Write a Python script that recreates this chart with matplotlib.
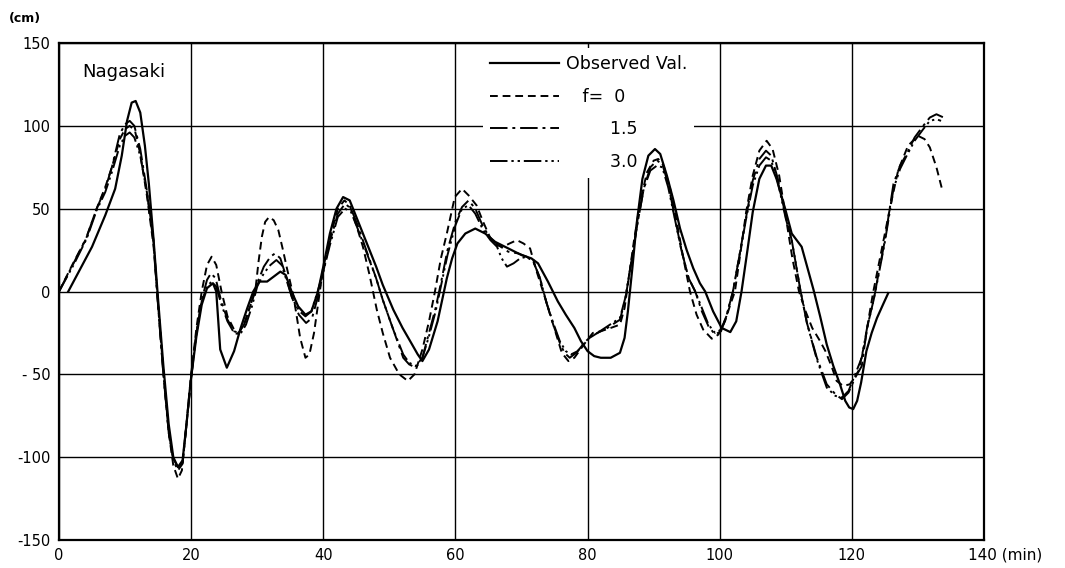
import matplotlib
matplotlib.use("Agg")
import matplotlib.pyplot as plt
import matplotlib.transforms as mtransforms

# --- values (time in min, height in cm) ---
obs_t = [1.4, 3, 5, 7, 8.5, 9.5, 10.3, 11.0, 11.6, 12.3, 13.0, 13.6, 14.3, 15.0, 15.8, 16.6,
         17.3, 18.0, 18.7, 19.3, 19.9, 20.8, 21.6, 22.4, 23.3, 23.8, 24.4, 25.4, 26.5, 27.5,
         28.5, 29.4, 30.3, 31.5, 32.5, 33.5, 34.3, 35.2, 36.2, 37.3, 38.2, 39.2, 40.0, 41.0,
         42.0, 43.0, 44.0, 45.0, 46.5, 48.0, 49.0, 50.6, 52.0, 53.3, 54.3, 55.0, 56.0, 57.3,
         58.0, 58.7, 59.5, 60.3, 61.5, 63.0, 64.5, 66.0, 68.0, 70.0, 71.5, 72.5, 74.0, 75.5,
         76.7, 78.0, 79.0, 80.0, 81.0, 82.0, 83.5, 84.9, 85.6, 86.1, 86.8, 87.4, 88.3, 89.2,
         90.2, 91.0, 92.0, 93.0, 94.0, 95.0, 96.0, 97.0, 97.8, 99.0, 100.3, 101.6, 102.5,
         103.3, 104.2, 105.0, 106.0, 107.0, 107.8, 108.6, 109.9, 110.9, 112.4, 113.3, 114.2,
         115.2, 116.2, 117.2, 118.2, 119.0, 119.6, 120.2, 120.8, 121.4, 122.2, 123.0, 123.8,
         124.7, 125.5]
obs_v = [0, 12, 27, 46, 62, 82, 103, 114, 115, 108, 88, 65, 32, -5, -45, -80,
         -100, -106, -102, -80, -55, -27, -8, 2, 5, 0, -35, -46, -36, -22,
         -10, 0, 6, 6, 9, 12, 10, 0, -9, -14, -12, 0, 15, 35,
         50, 57, 55, 45, 30, 15, 4, -11, -22, -31, -38, -42, -35, -18,
         -5, 8, 20, 29, 35, 38, 35, 30, 26, 22, 20, 17, 6, -6,
         -14, -22, -30, -36, -39, -40, -40, -37, -28, -12, 15, 40, 68, 82,
         86, 83, 70, 55, 38, 25, 14, 5, 0, -12, -22, -24.5, -18,
         0, 25, 48, 68, 76, 76, 68, 50, 35, 27, 14, 1,
         -15, -32, -45, -56, -66, -70, -71, -66, -55, -36, -25, -16,
         -8, -1]

f0_t = [0, 2, 4, 5.7, 7, 8, 9.2, 10.0, 10.7, 11.5, 12.3, 13.3, 14.3, 15.0, 15.8, 16.6,
        17.3, 18.0, 18.6, 19.3, 20.0, 20.8, 21.6, 22.4, 23.1, 23.8, 24.6, 25.5, 26.5, 27.2,
        28.2, 29.0, 29.7, 30.2, 30.7, 31.2, 31.8, 32.5, 33.2, 33.9, 34.5, 35.5, 36.5, 37.3,
        37.9, 38.6, 39.3, 40.0, 41.2, 42.2, 43.2, 44.0, 45.0, 46.0, 47.0, 48.1, 49.0, 50.1,
        51.5, 52.8, 53.8, 55.0, 56.0, 56.9, 57.8, 58.7, 59.9, 61.0, 62.0, 63.2, 64.2, 65.2,
        66.2, 67.2, 68.2, 69.3, 70.3, 71.3, 72.3, 73.5, 74.8, 76.1, 77.1, 78.0, 78.9, 80.0,
        80.8, 82.0, 83.5, 84.9, 85.6, 86.3, 87.0, 88.0, 89.0, 90.0, 90.7, 91.5, 92.5, 93.5,
        94.5, 95.5, 96.5, 97.5, 98.8, 99.8, 100.8, 101.6, 102.3, 103.2, 104.0, 105.0, 106.0,
        107.1, 108.0, 109.0, 110.0, 111.0, 112.0, 113.0, 114.0, 115.2, 116.0, 117.0, 117.7,
        118.7, 119.7, 121.0, 122.0, 122.6, 123.2, 124.5, 125.8, 127.0, 128.5, 130.0, 131.0,
        131.8, 132.8, 133.7]
f0_v = [0, 16, 31, 50, 63, 75, 92, 98, 100, 97, 83, 58, 28, -8, -48, -85,
        -105, -113, -108, -80, -50, -22, 0, 16, 21, 16, 0, -15, -23, -25,
        -18, -8, 0, 18, 33, 42, 45, 43, 37, 25, 14, -3, -28, -40,
        -38, -25, -5, 15, 35, 50, 55, 52, 40, 27, 10, -11, -25, -40,
        -50, -54, -50, -35, -18, 0, 20, 35, 57, 62, 58, 52, 42, 33,
        28, 27, 29, 31, 29, 26, 12, -3, -20, -37, -42, -40, -35, -29,
        -25, -24, -22, -20, -10, 10, 30, 55, 72, 79, 80, 76, 62, 42,
        20, 0, -14, -23, -28.5, -26, -18, -8, 0, 25, 48, 70, 85,
        91, 86, 70, 45, 20, 0, -12, -22, -30, -36, -46, -54,
        -57, -56, -48, -30, -15, -1, 25, 51, 73, 88, 94, 92,
        87, 75, 61]

f15_t = [0, 2.2, 4.2, 5.7, 7, 8, 9.2, 10.0, 10.7, 11.4, 12.3, 13.3, 14.3, 15.0, 15.8, 16.6,
         17.3, 18.0, 18.7, 19.3, 20.0, 20.8, 21.6, 22.4, 23.0, 23.7, 24.5, 25.5, 26.5, 27.2,
         28.0, 29.0, 30.0, 31.0, 32.0, 32.7, 33.5, 34.3, 35.2, 36.3, 37.4, 38.3, 39.2, 40.0,
         41.0, 42.2, 43.3, 44.2, 45.2, 46.5, 48.0, 49.0, 50.5, 52.1, 53.0, 54.0, 55.0, 56.0,
         57.0, 57.8, 58.8, 60.0, 61.0, 62.0, 63.0, 64.2, 65.3, 66.5, 68.0, 69.5, 70.8, 71.8,
         72.8, 73.8, 74.8, 75.8, 76.5, 77.3, 78.3, 79.3, 80.3, 81.5, 83.0, 84.9, 85.7, 86.5,
         87.5, 88.5, 89.5, 90.5, 91.3, 92.2, 93.2, 94.2, 95.3, 96.3, 97.3, 98.3, 99.3, 100.2,
         101.0, 102.0, 103.0, 104.0, 105.0, 106.0, 107.0, 107.8, 108.8, 110.0, 110.9, 111.6,
         112.2, 113.2, 114.7, 116.2, 117.5, 118.5, 119.5, 120.5, 121.5, 122.3, 123.3, 124.0,
         125.0, 126.3, 127.3, 128.3, 129.5, 130.8, 131.8, 132.8, 133.9]
f15_v = [0, 17, 33, 50, 62, 75, 95, 101, 103, 100, 86, 61, 31, -9, -50, -85,
         -102, -108, -104, -80, -52, -25, -5, 7, 11, 8, -5, -17, -24, -25,
         -20, -8, 5, 15, 21, 23, 20, 10, -3, -14, -19, -16, -3, 12,
         30, 47, 53, 50, 40, 25, 8, -5, -22, -40, -44, -46, -40, -25,
         -10, 5, 25, 42, 51, 55, 50, 39, 32, 28, 24, 23, 21, 18,
         8, -7, -20, -31, -37, -40, -37, -32, -28, -25, -22, -17, -5, 15,
         40, 62, 75, 79, 77, 65, 45, 25, 8, 0, -12, -21, -26, -24,
         -15, 0, 22, 45, 67, 80, 85, 82, 68, 45, 31, 15,
         1, -19, -40, -56, -62, -65, -61, -52, -45, -22, -5, 10,
         31, 65, 76, 83, 93, 100, 105, 107, 105]

f30_t = [0, 2.2, 4.2, 5.7, 7, 8, 9.2, 10.0, 10.7, 11.4, 12.3, 13.3, 14.3, 15.0, 15.8, 16.6,
         17.3, 18.0, 18.7, 19.3, 20.0, 20.8, 21.6, 22.4, 23.1, 23.8, 24.5, 25.5, 26.5, 27.4,
         28.3, 29.2, 30.0, 31.0, 32.0, 32.9, 33.7, 34.5, 35.4, 36.4, 37.3, 38.2, 39.0, 40.0,
         41.0, 42.2, 43.3, 44.2, 45.2, 46.5, 48.0, 49.0, 50.5, 52.1, 53.0, 54.0, 55.0, 56.0,
         57.0, 57.8, 58.8, 60.0, 61.0, 62.0, 63.0, 64.2, 65.3, 66.3, 67.0, 67.8, 68.8, 69.8,
         70.8, 71.8, 72.8, 73.8, 74.8, 75.8, 76.7, 77.5, 78.5, 79.5, 80.5, 81.5, 83.0, 84.9,
         85.7, 86.5, 87.5, 88.5, 89.5, 90.5, 91.3, 92.2, 93.2, 94.2, 95.3, 96.3, 97.3, 98.3,
         99.3, 100.2, 101.0, 102.0, 103.0, 104.0, 105.0, 106.0, 107.0, 107.8, 108.8, 110.0,
         110.9, 111.6, 112.2, 113.2, 114.7, 116.2, 117.5, 118.5, 119.5, 120.5, 121.5, 122.3,
         123.3, 124.0, 125.0, 126.3, 127.3, 128.3, 129.5, 130.8, 131.8, 132.8, 133.5]
f30_v = [0, 16, 32, 49, 60, 72, 88, 94, 96, 93, 82, 60, 30, -8, -50, -85,
         -101, -106, -103, -80, -52, -25, -6, 3, 6, 3, -7, -18, -25, -26,
         -20, -9, 3, 11, 16, 19, 16, 6, -5, -12, -15, -12, -2, 12,
         28, 45, 50, 48, 38, 24, 8, -5, -22, -38, -43, -45, -40, -27,
         -12, 3, 22, 40, 50, 52, 47, 37, 31, 27, 20, 15, 17, 20,
         21, 18, 8, -7, -19, -30, -36, -38, -36, -31, -27, -25, -21, -16,
         -4, 15, 40, 62, 73, 76, 75, 63, 44, 25, 8, 0, -10, -20,
         -25, -23, -15, 0, 22, 44, 64, 76, 81, 79, 66, 44,
         31, 15, 1, -19, -41, -58, -63, -64, -60, -50, -40, -22,
         -5, 9, 30, 62, 74, 82, 91, 98, 103, 104, 103]

labels = ["Observed Val.", "   f=  0", "        1.5", "        3.0"]
x_ticks = [0, 20, 40, 60, 80, 100, 120, 140]
x_ticklabels = ["0", "20", "40", "60", "80", "100", "120", ""]
y_ticks = [-150, -100, -50, 0, 50, 100, 150]
y_ticklabels = ["-150", "-100", "- 50", "0", "50", "100", "150"]

plt.rcParams['font.family'] = ['DejaVu Sans']

fig = plt.figure(figsize=(10.65, 5.68), dpi=100)
ax = fig.add_axes([59 / 1065, 28 / 568, 925 / 1065, 497 / 568])

lw = 1.4
ax.plot(obs_t, obs_v, color='black', lw=1.6, ls='-', label=labels[0], zorder=3)
ax.plot(f0_t, f0_v, color='black', lw=lw, ls=(0, (4, 2.5)), label=labels[1], zorder=3)
ax.plot(f15_t, f15_v, color='black', lw=lw, ls=(0, (9, 2.5, 1.5, 2.5)), label=labels[2], zorder=3)
ax.plot(f30_t, f30_v, color='black', lw=lw, ls=(0, (9, 2, 1.2, 2, 1.2, 2)), label=labels[3], zorder=3)

ax.set_xlim(0, 140)
ax.set_ylim(-150, 150)
ax.set_xticks(x_ticks)
ax.set_xticklabels(x_ticklabels)
ax.set_yticks(y_ticks)
ax.set_yticklabels(y_ticklabels)
ax.tick_params(length=0, labelsize=10.5, pad=6)
ax.set_axisbelow(True)
ax.grid(True, color='black', lw=1.0)
for s in ax.spines.values():
    s.set_linewidth(1.6)

leg = ax.legend(loc='upper left', bbox_to_anchor=(0.458, 0.99), borderaxespad=0,
                fontsize=12.5, handlelength=4.0, handletextpad=0.4, labelspacing=0.85,
                frameon=True, fancybox=False, borderpad=0.4)
leg.get_frame().set_facecolor('white')
leg.get_frame().set_edgecolor('none')
leg.get_frame().set_alpha(1)
leg.set_zorder(1.5)

ax.text(0.025, 0.942, "Nagasaki", transform=ax.transAxes, fontsize=13, va='center', ha='left')

trans = mtransforms.blended_transform_factory(ax.transData, ax.transAxes)
ax.text(137.6, -0.015, "140 (min)", transform=trans, fontsize=11, va='top', ha='left')
fig.text(0.008, 0.968, "(cm)", fontsize=9, fontweight='bold', va='center', ha='left')

fig.savefig("out.png", dpi=100)
